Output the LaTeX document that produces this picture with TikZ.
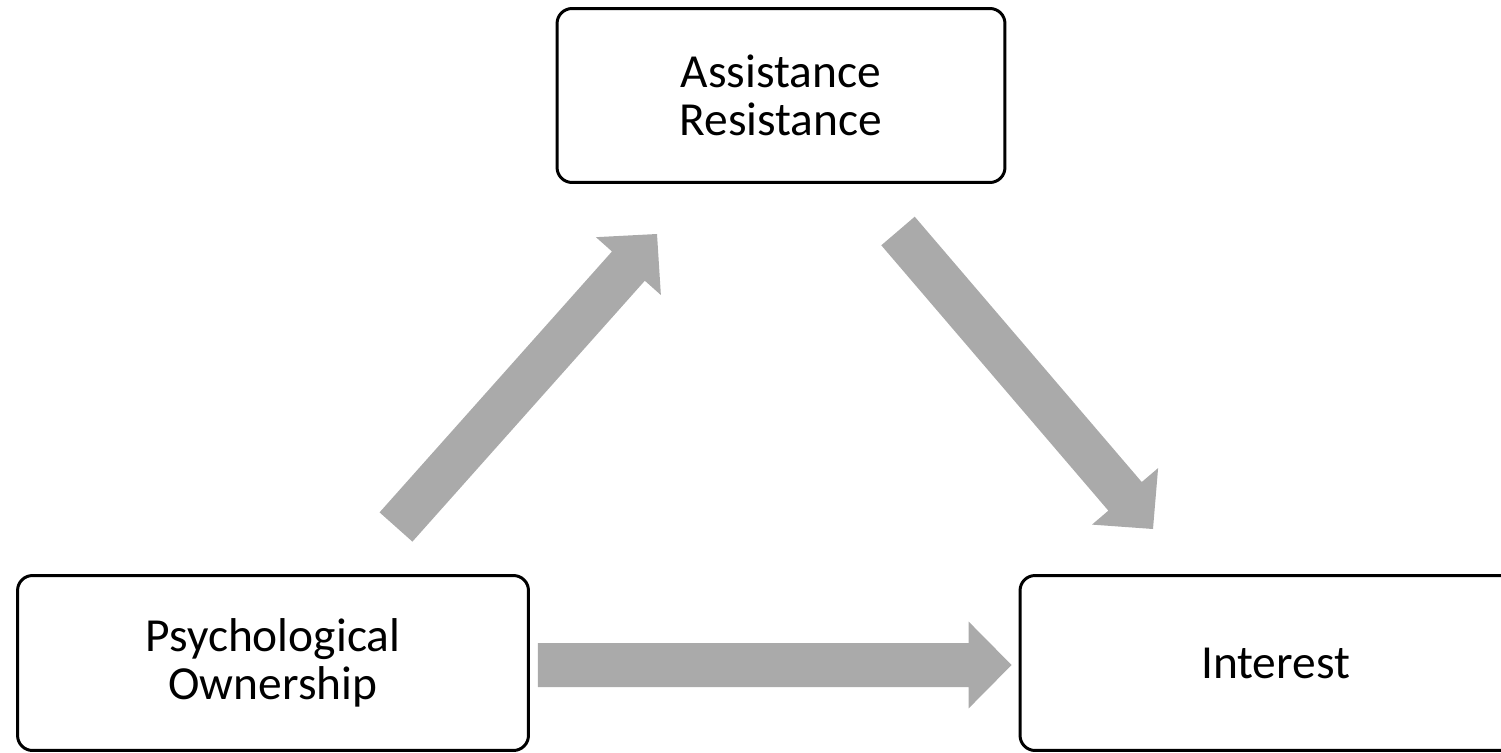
\documentclass[tikz,border=0pt]{standalone}
\usepackage{fontspec}
\setmainfont{Carlito}
\usetikzlibrary{positioning,calc}
\definecolor{arrowgray}{RGB}{170,170,170}
% wide grey arrow from a tail coordinate to a tip coordinate
\newcommand{\blockarrow}[2]{%
  \coordinate (#1n) at ($(#2)!0.86cm!(#1)$);
  \fill[arrowgray] ($(#1)!0.44cm!90:(#2)$) -- ($(#1n)!0.44cm!90:(#2)$)
    -- ($(#1n)!0.87cm!90:(#2)$) -- (#2) -- ($(#1n)!0.87cm!-90:(#2)$)
    -- ($(#1n)!0.44cm!-90:(#2)$) -- ($(#1)!0.44cm!-90:(#2)$) -- cycle;}

\begin{document}
\begin{tikzpicture}[
    x=0.02cm, y=-0.02cm,
    font=\fontsize{27}{27.3}\selectfont,
    box/.style={draw, line width=1.7pt, rounded corners=0.3cm, align=center, inner sep=0pt, minimum width=10.22cm, minimum height=3.5cm}
]
\useasboundingbox (0,0) rectangle (1501,753);

\node[box, minimum width=8.96cm, minimum height=3.48cm] (ar) at (781,95.5) {Assistance\\Resistance};
\node[box] (po) at (273,663) {Psychological\\Ownership};
\node[box] (int) at (1275.5,663) {Interest};

\coordinate (t1) at (396,527);
\coordinate (h1) at (657,234);
\coordinate (t2) at (898,231);
\coordinate (h2) at (1153,529);
\coordinate (t3) at ([xshift=0.16cm]po.east |- 0,665);
\coordinate (h3) at ([xshift=-0.14cm]int.west |- 0,665);

\blockarrow{t1}{h1}
\blockarrow{t2}{h2}
\blockarrow{t3}{h3}
\end{tikzpicture}
\end{document}
